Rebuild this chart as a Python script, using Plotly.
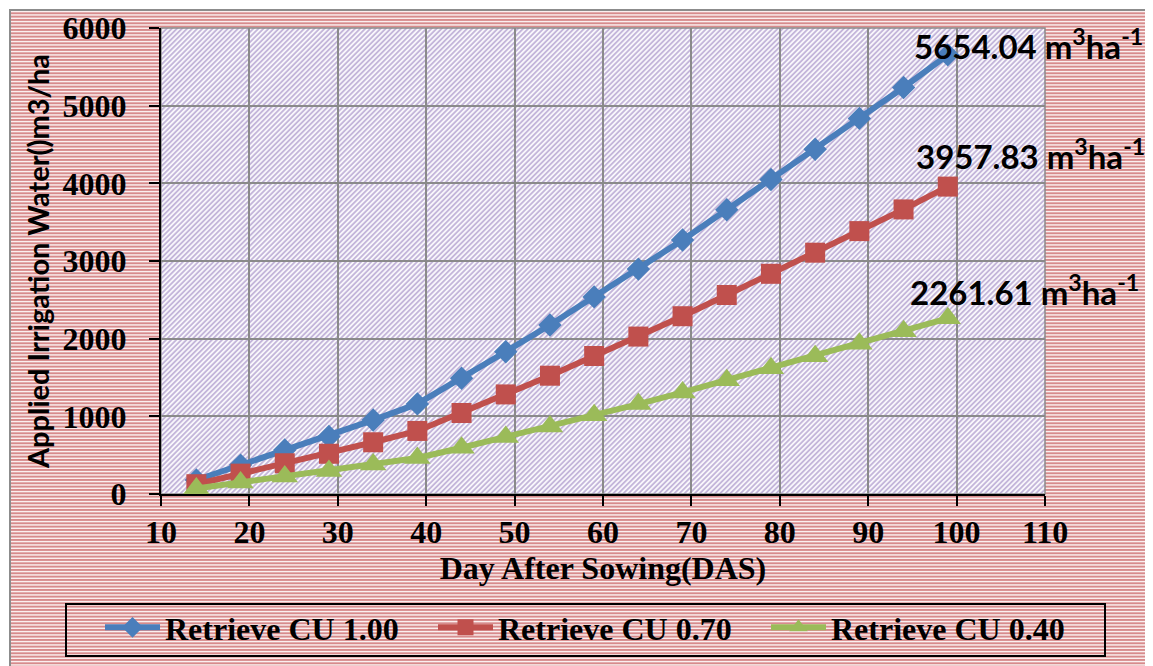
import base64
import plotly.graph_objects as go

# ---- data ----
das = [14, 19, 24, 29, 34, 39, 44, 49, 54, 59, 64, 69, 74, 79, 84, 89, 94, 99]
cu100 = [180, 372, 566, 740, 952, 1160, 1490, 1832, 2176, 2538, 2896, 3270, 3660, 4050, 4438, 4836, 5234, 5654.04]
cu070 = [126, 262, 396, 518, 666, 812, 1043, 1282, 1523, 1777, 2027, 2289, 2562, 2835, 3107, 3385, 3664, 3957.83]
cu040 = [72, 149, 226, 296, 381, 464, 596, 733, 870, 1015, 1158, 1308, 1464, 1620, 1775, 1934, 2094, 2261.61]
series_names = ["Retrieve CU 1.00", "Retrieve CU 0.70", "Retrieve CU 0.40"]
end_labels = ["5654.04 m<sup>3</sup>ha<sup>-1</sup>",
              "3957.83 m<sup>3</sup>ha<sup>-1</sup>",
              "2261.61 m<sup>3</sup>ha<sup>-1</sup>"]

# page is rendered with an 8px body margin; lay out in page coordinates
OFF = 8
PAGE_W, PAGE_H = 1153, 666
W, H = PAGE_W - OFF, PAGE_H - OFF
# plot area in page pixels
PX0, PX1, PY0, PY1 = 161, 1045, 28, 494
ML, MR, MT, MB = PX0 - OFF, PAGE_W - PX1, PY0 - OFF, PAGE_H - PY1
PW, PH = PX1 - PX0, PY1 - PY0


def px2paper_x(px):  # page px -> paper
    return (px - PX0) / PW


def px2paper_y(py):
    return (PY1 - py) / PH


def svg_uri(svg):
    return "data:image/svg+xml;base64," + base64.b64encode(svg.encode()).decode()


# outer striped background (horizontal red stripes) with grey border
ox0, oy0, ox1, oy1 = 9, 9, PAGE_W, PAGE_H
ow, oh = ox1 - ox0, oy1 - oy0
outer_svg = (
    f'<svg xmlns="http://www.w3.org/2000/svg" width="{ow}" height="{oh}" viewBox="0 0 {ow} {oh}" preserveAspectRatio="none">'
    '<defs><pattern id="s" width="10" height="10" patternUnits="userSpaceOnUse">'
    '<rect width="10" height="10" fill="#fbefef"/>'
    '<rect y="0" width="10" height="1.9" fill="#d78b8c"/>'
    '<rect y="3.33" width="10" height="1.9" fill="#d78b8c"/>'
    '<rect y="6.67" width="10" height="1.9" fill="#d78b8c"/></pattern></defs>'
    f'<rect width="{ow}" height="{oh}" fill="url(#s)"/>'
    f'<rect x="1" y="1" width="{ow + 4}" height="{oh + 4}" fill="none" stroke="#8c8c8c" stroke-width="2"/></svg>'
)
# plot-area diagonal hatch
plot_svg = (
    f'<svg xmlns="http://www.w3.org/2000/svg" width="{PW}" height="{PH}" viewBox="0 0 {PW} {PH}" preserveAspectRatio="none">'
    '<defs><pattern id="h" width="3.6" height="3.6" patternUnits="userSpaceOnUse" patternTransform="rotate(45)">'
    '<rect width="3.6" height="3.6" fill="#f8f6fb"/><rect width="1.8" height="3.6" fill="#c4b6da"/></pattern></defs>'
    f'<rect width="{PW}" height="{PH}" fill="url(#h)"/></svg>'
)

colors = ["#4a7ebb", "#c0504d", "#9bbb59"]
symbols = ["diamond", "square", "triangle-up"]
msizes = [18, 20, 23]

fig = go.Figure()
for name, ys, c, s, ms in zip(series_names, [cu100, cu070, cu040], colors, symbols, msizes):
    fig.add_trace(go.Scatter(
        x=das, y=ys, name=name, mode="lines+markers",
        line=dict(color=c, width=6),
        marker=dict(symbol=s, size=ms, color=c),
    ))

shifts = [(-36, 11), (-34, 33), (-40, 28)]
for ys, lab, (xs, yshift) in zip([cu100, cu070, cu040], end_labels, shifts):
    fig.add_annotation(
        x=das[-1], y=ys[-1], xref="x", yref="y", text=lab, showarrow=False,
        xanchor="left", yanchor="middle", xshift=xs, yshift=yshift,
        font=dict(family="Lato", size=33, color="black", weight="bold"),
    )

serif = "Liberation Serif"
tickfont = dict(family=serif, size=32, color="black", weight="bold")

fig.update_layout(
    width=W, height=H,
    margin=dict(l=ML, r=MR, t=MT, b=MB, pad=0, autoexpand=False),
    paper_bgcolor="white",
    plot_bgcolor="rgba(0,0,0,0)",
    showlegend=True,
    legend=dict(
        orientation="h", x=px2paper_x(100), y=px2paper_y(600), xanchor="left", yanchor="top",
        bgcolor="rgba(0,0,0,0)", borderwidth=0,
        font=dict(family=serif, size=32, color="black", weight="bold"),
        itemwidth=55, entrywidth=263, entrywidthmode="pixels",
    ),
    images=[
        dict(source=svg_uri(outer_svg), xref="paper", yref="paper",
             x=px2paper_x(ox0), y=px2paper_y(oy0), sizex=ow / PW, sizey=oh / PH,
             sizing="stretch", xanchor="left", yanchor="top", layer="below"),
        dict(source=svg_uri(plot_svg), xref="paper", yref="paper",
             x=0, y=1, sizex=1, sizey=1,
             sizing="stretch", xanchor="left", yanchor="top", layer="below"),
    ],
)

fig.update_xaxes(
    range=[10, 110], dtick=10, tick0=10,
    showgrid=True, gridcolor="#8a8a8a", gridwidth=1.5,
    showline=True, linecolor="black", linewidth=2,
    ticks="outside", ticklen=10, tickwidth=2, tickcolor="black",
    tickfont=tickfont, ticklabelstandoff=-1,
    zeroline=False, automargin=False,
    title=dict(text="Day After Sowing(DAS)", standoff=0,
               font=dict(family=serif, size=32, color="black", weight="bold")),
)
fig.update_yaxes(
    range=[0, 6000], dtick=1000,
    showgrid=True, gridcolor="#8a8a8a", gridwidth=1.5,
    showline=True, linecolor="black", linewidth=2,
    ticks="outside", ticklen=10, tickwidth=2, tickcolor="black",
    tickfont=tickfont, ticklabelstandoff=16,
    zeroline=False, automargin=False,
    title=dict(text="Applied Irrigation Water()m3/ha", standoff=4,
               font=dict(family="Lato", size=29, color="black", weight="bold")),
)

# grey frame on top/right of plot area
fig.add_shape(type="rect", xref="paper", yref="paper", x0=0, y0=0, x1=1, y1=1,
              line=dict(color="#8a8a8a", width=1.5), layer="below")
# legend frame
fig.add_shape(type="rect", xref="paper", yref="paper",
              x0=px2paper_x(66), x1=px2paper_x(1105), y0=px2paper_y(656), y1=px2paper_y(604),
              line=dict(color="black", width=2), layer="above")

fig.write_html("out.html")
